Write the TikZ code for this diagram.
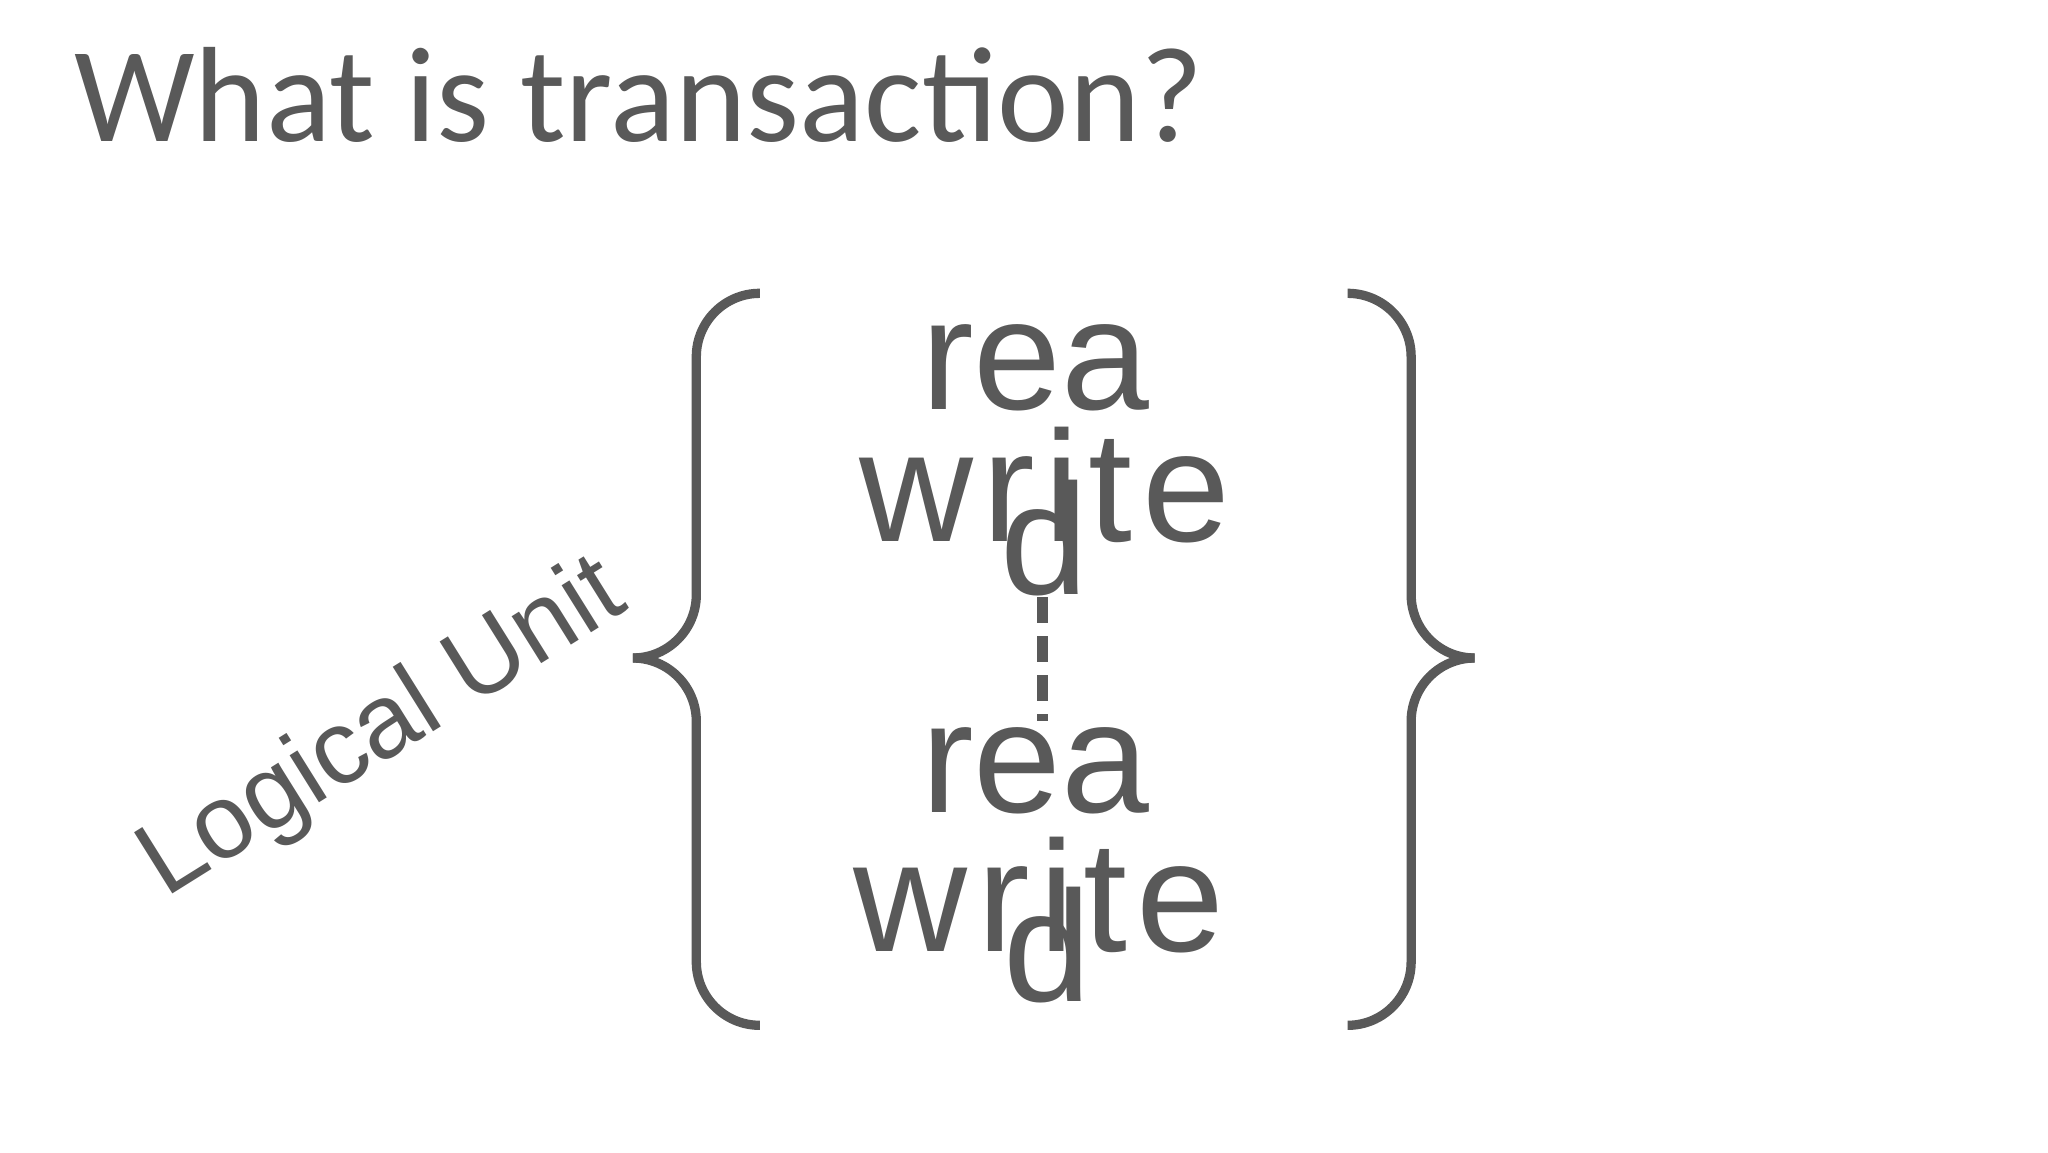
\documentclass[tikz,border=0pt]{standalone}
\usepackage{fontspec}
\setmainfont{Liberation Sans}
\newfontfamily\titlefont{Carlito}
\newfontfamily\widefont[LetterSpace=6]{Liberation Sans}
\definecolor{gr}{HTML}{595959}
\begin{document}
\begin{tikzpicture}[x=0.05cm,y=-0.05cm,
  big/.style={anchor=base west,inner sep=0,text=gr,font=\fontsize{170}{170}\selectfont},
  wide/.style={anchor=base west,inner sep=0,text=gr,font=\widefont\fontsize{170}{170}\selectfont},
  brace/.style={draw=gr,line width=10pt,rounded corners=2.4cm}]
\useasboundingbox (0,0) rectangle (1550,872);
\node[anchor=base west,inner sep=0,text=gr,font=\titlefont\fontsize{146}{146}\selectfont] (title) at (56,107) {What is transaction?};
\node[big] (r1) at (697,310) {rea};
\node[wide] (w1) at (650,410) {write};
\node[big] (d1) at (757,450) {d};
\node[big] (r2) at (697,615) {rea};
\node[wide] (w2) at (646,720) {write};
\node[big] (d2) at (759,758) {d};
\coordinate (ds) at (789,452);
\coordinate (de) at (789,546);
\draw[gr,line width=12pt,dash pattern=on 28pt off 14pt] (ds) -- (de);
\draw[brace] (575,222) -- (527,222) -- (527,498) -- (484,498);
\draw[brace] (484,498) -- (527,498) -- (527,776) -- (575,776);
\draw[brace] (1020,222) -- (1068,222) -- (1068,498) -- (1111,498);
\draw[brace] (1111,498) -- (1068,498) -- (1068,776) -- (1020,776);
\node[inner sep=0,text=gr,rotate=32,font=\fontsize{113}{113}\selectfont] (lu) at (290,553) {Logical Unit};
\end{tikzpicture}
\end{document}
